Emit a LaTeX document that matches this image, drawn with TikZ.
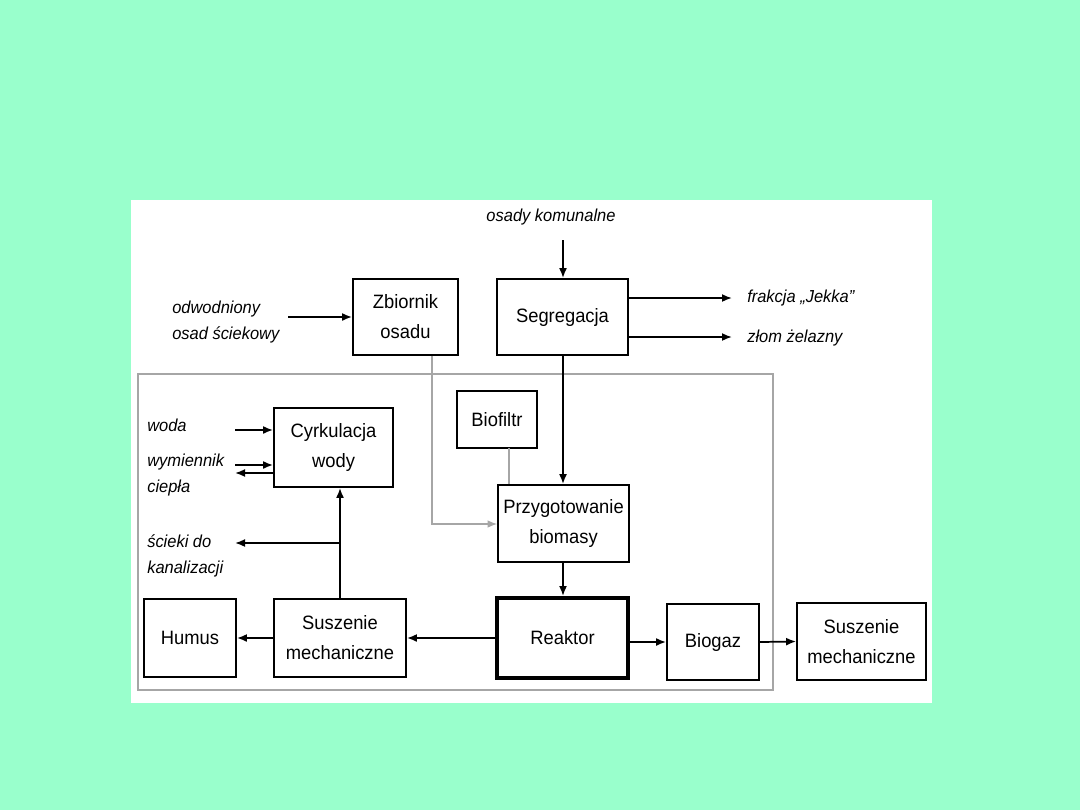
\documentclass[tikz,border=0pt]{standalone}
\usepackage{fontspec}
\setmainfont{Liberation Sans}[FakeStretch=0.95]
\usetikzlibrary{arrows.meta}
\definecolor{mint}{RGB}{153,255,204}
\begin{document}
\begin{tikzpicture}[x=0.75pt,y=-0.75pt,
  box/.style={draw=black,line width=1.4pt,fill=white,inner sep=0pt,align=center,
    font=\fontsize{14.5pt}{22.5pt}\selectfont},
  lab/.style={inner sep=0pt,anchor=west,align=left,font=\fontsize{13pt}{20pt}\selectfont\itshape},
  arr/.style={line width=1.3pt,-{Latex[length=7.5pt,width=6pt]}},
  thin/.style={draw=gray!70,line width=0.8pt}]
\fill[mint] (0,0) rectangle (1080,810);
\useasboundingbox (0,0) rectangle (1080,810);
\fill[white] (131,200) rectangle (932,703);
% frame
\draw[thin] (138,374) rectangle (773,690);
% boxes
\node[box,minimum width=78.75pt,minimum height=57pt] (zb) at (405.5,317) {Zbiornik\\osadu};
\node[box,minimum width=98.25pt,minimum height=57pt] (seg) at (562.5,317) {Segregacja};
\node[box,minimum width=60pt,minimum height=42.75pt] (bio) at (497,419.5) {Biofiltr};
\node[box,minimum width=98.25pt,minimum height=57.75pt] (prz) at (563.5,523.5) {Przygotowanie\\biomasy};
\node[box,minimum width=89.25pt,minimum height=59.25pt] (cyr) at (333.5,447.5) {Cyrkulacja\\wody};
\node[box,minimum width=69pt,minimum height=58.5pt] (hum) at (190,638) {Humus};
\node[box,minimum width=99pt,minimum height=58.5pt] (sl) at (340,638) {Suszenie\\mechaniczne};
\node[box,line width=3pt,minimum width=98.25pt,minimum height=60pt] (rea) at (562.5,638) {Reaktor};
\node[box,minimum width=69pt,minimum height=57pt] (bg) at (713,642) {Biogaz};
\node[box,minimum width=96.75pt,minimum height=57.75pt] (sr) at (861.5,641.5) {Suszenie\\mechaniczne};
% labels
\node[lab,anchor=center] (osk) at (551,217) {osady komunalne};
\node[lab] (odw) at (172,322) {odwodniony\\osad ściekowy};
\node[lab] (frak) at (747,298) {frakcja „Jekka”};
\node[lab] (zlom) at (747,338) {złom żelazny};
\node[lab] (woda) at (147,425) {woda};
\node[lab] (wym) at (147,475) {wymiennik\\ciepła};
\node[lab] (sci) at (147,556) {ścieki do\\kanalizacji};
% free ends
\coordinate (c1) at (563,240);
\coordinate (c2) at (288,317);
\coordinate (c3) at (732,298);
\coordinate (c4) at (732,337);
\coordinate (k) at (432,524);
\coordinate (bl) at (509,448);
\coordinate (w1) at (235,430);
\coordinate (w2) at (235,465);
\coordinate (w3) at (235,473);
\coordinate (s1) at (235,543);
\coordinate (s2) at (340,543);
% connectors
\draw[arr] (c1) -- (seg.north -| c1);
\draw[arr] (c2) -- (zb.west);
\draw[arr] (seg.east |- c3) -- (c3);
\draw[arr] (seg.east |- c4) -- (c4);
\draw[arr] (seg.south -| c1) -- (prz.north -| c1);
\draw[thin,-{Latex[length=7pt,width=5.5pt]}] (zb.south -| k) -- (k) -- (prz.west |- k);
\draw[thin] (bl) -- (prz.north -| bl);
\draw[arr] (prz.south -| c1) -- (rea.north -| c1);
\draw[arr] (rea.west) -- (sl.east);
\draw[arr] (sl.west) -- (hum.east);
\draw[arr] (sl.north) -- (sl.north |- cyr.south);
\draw[arr] (s2) -- (s1);
\draw[arr] (w1) -- (cyr.west |- w1);
\draw[arr] (w2) -- (cyr.west |- w2);
\draw[arr] (cyr.west |- w3) -- (w3);
\draw[arr] (rea.east |- bg) -- (bg.west);
\draw[arr] (bg.east) -- (sr.west);
\end{tikzpicture}
\end{document}
